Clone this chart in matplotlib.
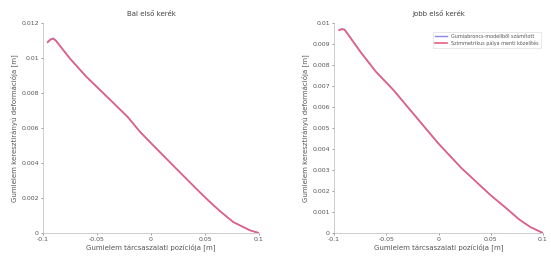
import matplotlib

matplotlib.use("Agg")

import matplotlib.pyplot as plt

# pozíció [m] és deformáció [m], leolvasva
bal_x = [-0.0956, -0.093, -0.0905, -0.088, -0.075, -0.060, -0.0374, -0.0217,
         -0.0102, 0.0003, 0.0207, 0.0412, 0.0516, 0.064, 0.0762, 0.0917, 0.1]
bal_y = [0.01093, 0.01108, 0.01113, 0.01100, 0.00998, 0.00895, 0.0076, 0.00665,
         0.0058, 0.00513, 0.00385, 0.00258, 0.00195, 0.00125, 0.00063, 0.00015, 0.0]
bal_y_ref = [0.01090, 0.01105, 0.01110, 0.01098, 0.00996, 0.00893, 0.00758, 0.00663,
             0.00578, 0.00511, 0.00384, 0.00257, 0.00194, 0.00124, 0.00062, 0.00015, 0.0]

jobb_x = [-0.095, -0.0925, -0.090, -0.087, -0.0747, -0.060, -0.0429, -0.008,
          0.0, 0.0219, 0.05, 0.065, 0.077, 0.088, 0.1]
jobb_y = [0.00968, 0.00972, 0.00970, 0.00950, 0.00864, 0.00770, 0.00681, 0.00474,
          0.00427, 0.00310, 0.00180, 0.00118, 0.00066, 0.00028, 0.0]
jobb_y_ref = [0.00966, 0.00970, 0.00968, 0.00948, 0.00862, 0.00768, 0.00679, 0.00472,
              0.00425, 0.00309, 0.00179, 0.00117, 0.00065, 0.00028, 0.0]

x_ticks = [-0.1, -0.05, 0, 0.05, 0.1]
x_ticklabels = ["-0.1", "-0.05", "0", "0.05", "0.1"]
bal_yticks = [0, 0.002, 0.004, 0.006, 0.008, 0.01, 0.012]
bal_yticklabels = ["0", "0.002", "0.004", "0.006", "0.008", "0.01", "0.012"]
jobb_yticks = [0, 0.001, 0.002, 0.003, 0.004, 0.005, 0.006, 0.007, 0.008, 0.009, 0.01]
jobb_yticklabels = ["0", "0.001", "0.002", "0.003", "0.004", "0.005",
                    "0.006", "0.007", "0.008", "0.009", "0.01"]

legend_labels = ["Gumiabroncs-modellből számított", "Szimmetrikus pálya menti közelítés"]
xlabel = "Gumielem tárcsaszalati pozíciója [m]"
ylabel = "Gumielem keresztirányú deformációja [m]"

plt.rcParams["font.family"] = ["DejaVu Sans"]
fig = plt.figure(figsize=(5.51, 2.60), dpi=100)
W, H = 551, 260


def style_axes(ax, yticks, yticklabels, ymax, title):
    ax.set_xlim(-0.1, 0.1)
    ax.set_ylim(0, ymax)
    ax.set_xticks(x_ticks)
    ax.set_xticklabels(x_ticklabels)
    ax.set_yticks(yticks)
    ax.set_yticklabels(yticklabels)
    ax.tick_params(labelsize=4.5, length=1.5, width=0.4, colors="#555555", pad=1.5)
    for side in ("top", "right"):
        ax.spines[side].set_visible(False)
    for side in ("left", "bottom"):
        ax.spines[side].set_color("#bbbbbb")
        ax.spines[side].set_linewidth(0.5)
    ax.set_title(title, fontsize=5, color="#444444", pad=5)
    ax.set_xlabel(xlabel, fontsize=5, color="#555555", labelpad=1)
    ax.set_ylabel(ylabel, fontsize=5, color="#555555", labelpad=2)


ax1 = fig.add_axes([43 / W, 1 - 233 / H, 216 / W, 210 / H])
ax1.plot(bal_x, bal_y, color="#8a8ae6", linewidth=1.0, label=legend_labels[0])
ax1.plot(bal_x, bal_y_ref, color="#e6607f", linewidth=1.2, label=legend_labels[1])
style_axes(ax1, bal_yticks, bal_yticklabels, 0.012, "Bal első kerék")

ax2 = fig.add_axes([334 / W, 1 - 233 / H, 209 / W, 210 / H])
ax2.plot(jobb_x, jobb_y, color="#8a8ae6", linewidth=1.0, label=legend_labels[0])
ax2.plot(jobb_x, jobb_y_ref, color="#e6607f", linewidth=1.2, label=legend_labels[1])
style_axes(ax2, jobb_yticks, jobb_yticklabels, 0.01, "Jobb első kerék")
leg = ax2.legend(loc="upper right", fontsize=3.5, frameon=True, fancybox=False,
                 borderpad=0.4, handlelength=2.5, labelspacing=0.3,
                 bbox_to_anchor=(1.0, 0.97))
leg.get_frame().set_linewidth(0.4)
leg.get_frame().set_edgecolor("#cccccc")
for t in leg.get_texts():
    t.set_color("#555555")

fig.savefig("out.png", dpi=100)
plt.close(fig)
